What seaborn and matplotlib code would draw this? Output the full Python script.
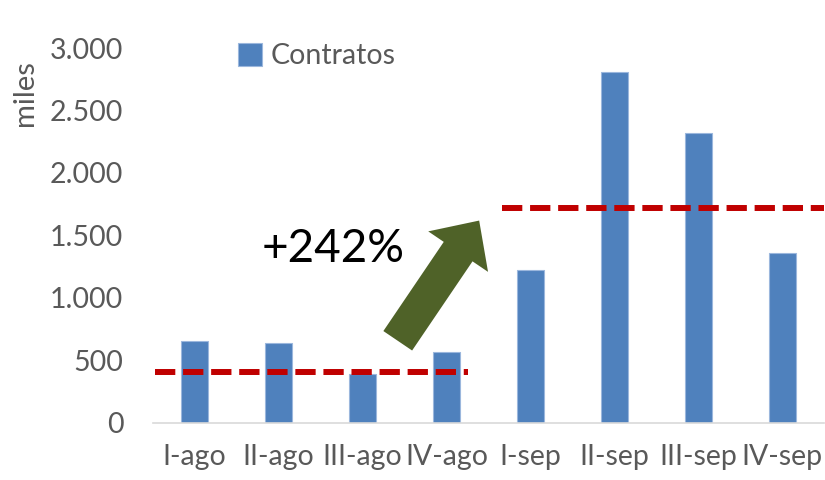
import matplotlib
matplotlib.use("Agg")
import matplotlib.pyplot as plt
import seaborn as sns
from matplotlib.ticker import FuncFormatter

# contratos por semana, en miles
semanas = ["I-ago", "II-ago", "III-ago", "IV-ago", "I-sep", "II-sep", "III-sep", "IV-sep"]
contratos = [657, 641, 393, 569, 1226, 2804, 2316, 1362]

# niveles medios de cada mes (líneas rojas discontinuas)
niveles = [409, 1723]
tramos_ini = [-0.47, 3.66]
tramos_fin = [3.26, 7.5]

etiqueta_var = "+242%"
y_ticks = [0, 500, 1000, 1500, 2000, 2500, 3000]

BLUE = "#4F81BD"
RED = "#C00000"
GREEN = "#4F6228"
GREY = "#595959"

sns.set_theme(style="white")
plt.rcParams["font.family"] = ["Lato", "DejaVu Sans"]

fig = plt.figure(figsize=(8.25, 4.8), dpi=100)
ax = fig.add_axes([0.185, 0.119, 0.814, 0.781])

sns.barplot(x=semanas, y=contratos, color=BLUE, saturation=1, width=0.32,
            edgecolor="#9bb7dd", linewidth=0.8, label="Contratos", ax=ax)

for y, x0, x1 in zip(niveles, tramos_ini, tramos_fin):
    ax.hlines(y, x0, x1, colors=RED, linewidth=4.3, linestyles=(0, (3.4, 1.3)), zorder=4)

# flecha de crecimiento
ax.annotate("", xy=(3.39, 1619), xytext=(2.42, 657),
            arrowprops=dict(arrowstyle="simple,head_length=27,head_width=52,tail_width=25",
                            mutation_scale=1, color=GREEN, lw=0, shrinkA=0, shrinkB=0),
            zorder=5)
ax.text(0.80, 1394, etiqueta_var, fontsize=33, color="black", ha="left", va="center")

ax.set_xlim(-0.5, 7.5)
ax.set_ylim(0, 3000)
ax.set_yticks(y_ticks)
ax.yaxis.set_major_formatter(FuncFormatter(lambda v, p: f"{v:,.0f}".replace(",", ".")))
ax.tick_params(axis="both", length=0, labelsize=20.5, labelcolor=GREY)
ax.tick_params(axis="x", pad=15)
ax.tick_params(axis="y", pad=21)

ax.set_ylabel("miles", fontsize=21, color=GREY)
ax.yaxis.set_label_coords(-0.17, 0.88)
ax.set_xlabel("")

sns.despine(ax=ax, left=True, top=True, right=True)
ax.spines["bottom"].set_color("#D9D9D9")
ax.spines["bottom"].set_linewidth(1.2)

if ax.legend_:
    ax.legend_.remove()
handles, labels = ax.get_legend_handles_labels()
fig.legend(handles, labels, loc="center left", bbox_to_anchor=(0.288, 0.883),
           frameon=False, fontsize=20.5, labelcolor=GREY, handlelength=0.85,
           handleheight=0.85, handletextpad=0.3, borderpad=0, borderaxespad=0)

fig.savefig("out.png", dpi=100)
